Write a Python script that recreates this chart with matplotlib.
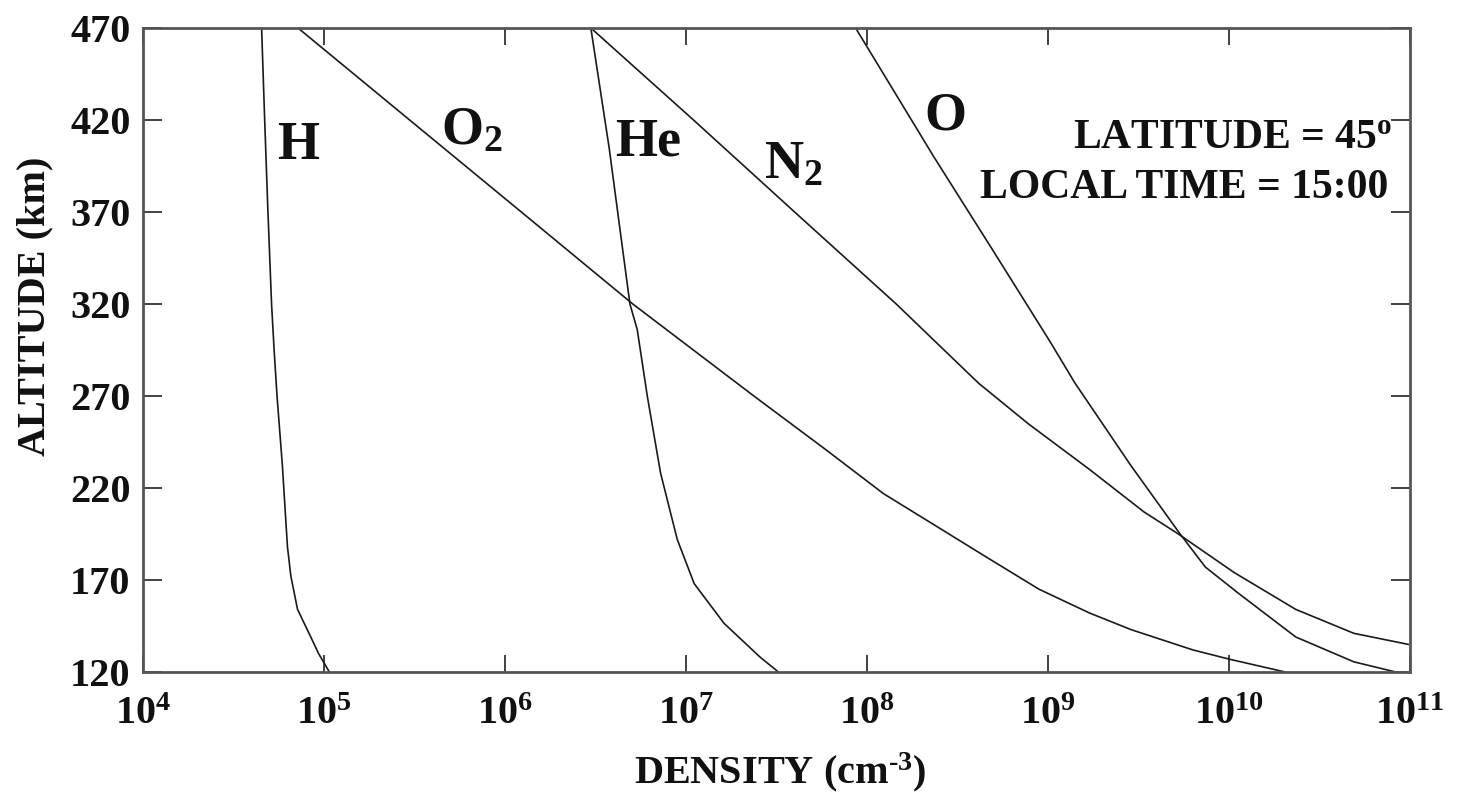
import numpy as np
import matplotlib
matplotlib.use("Agg")
import matplotlib.pyplot as plt

plt.rcParams['font.family'] = ['Liberation Serif', 'DejaVu Serif']
plt.rcParams['font.weight'] = 'bold'
plt.rcParams['mathtext.fontset'] = 'custom'
plt.rcParams['mathtext.rm'] = 'Liberation Serif:bold'
plt.rcParams['mathtext.bf'] = 'Liberation Serif:bold'
plt.rcParams['mathtext.it'] = 'Liberation Serif:bold'

# densities (cm^-3), altitude in km
alt_H = [470, 420, 370, 320, 295, 270, 232, 188, 172, 154, 139, 130, 120]
den_H = [4.52e4, 4.70e4, 4.90e4, 5.13e4, 5.30e4, 5.50e4, 5.89e4, 6.28e4, 6.56e4, 7.14e4, 8.45e4, 9.33e4, 1.07e5]

alt_O2 = [470, 420, 370, 320, 270, 241, 217, 197, 183, 165, 152, 143, 132, 127, 120]
den_O2 = [7.18e4, 2.97e5, 1.23e6, 5.08e6, 2.37e7, 5.89e7, 1.23e8, 2.63e8, 4.47e8, 8.91e8,
          1.70e9, 2.88e9, 6.31e9, 1.0e10, 2.04e10]

alt_He = [470, 405, 320, 306, 270, 228, 192, 168, 146.5, 128, 120]
den_He = [2.98e6, 3.76e6, 4.90e6, 5.38e6, 6.11e6, 7.24e6, 8.95e6, 1.11e7, 1.62e7, 2.57e7, 3.24e7]

alt_N2 = [470, 420, 370, 320, 277, 255, 230, 207, 195, 174, 154, 141, 135]
den_N2 = [2.98e6, 1.10e7, 3.98e7, 1.45e8, 4.13e8, 7.76e8, 1.70e9, 3.39e9, 5.25e9, 1.07e10, 2.34e10,
          4.90e10, 9.77e10]

alt_O = [470, 400, 350, 300, 277, 232, 195, 177, 163, 139, 125.5, 120]
den_O = [8.65e7, 2.34e8, 4.90e8, 1.02e9, 1.41e9, 2.88e9, 5.37e9, 7.41e9, 1.12e10, 2.34e10, 4.90e10, 8.32e10]

yticks = [120, 170, 220, 270, 320, 370, 420, 470]
xexp = [4, 5, 6, 7, 8, 9, 10, 11]

fig = plt.figure(figsize=(14.67, 7.99), dpi=100)
ax = fig.add_axes([0.0975, 0.159, 0.8636, 0.806])

for d, a in [(den_H, alt_H), (den_O2, alt_O2), (den_He, alt_He), (den_N2, alt_N2), (den_O, alt_O)]:
    ax.plot(d, a, color='#1a1a1a', lw=1.2)

ax.set_xscale('log')
ax.set_xlim(1e4, 1e11)
ax.set_ylim(120, 470)
ax.set_xticks([10.0**e for e in xexp])
ax.set_xticklabels([r'$10^{%d}$' % e for e in xexp])
ax.xaxis.set_minor_locator(matplotlib.ticker.NullLocator())
ax.set_yticks(yticks)
ax.set_yticklabels([str(v) for v in yticks])

ax.tick_params(axis='both', direction='in', top=True, right=True, width=1.3, colors='#333333',
               labelcolor='#111111', labelsize=29)
ax.tick_params(axis='x', length=12, pad=17)
ax.tick_params(axis='y', length=14, pad=9)
for s in ax.spines.values():
    s.set_linewidth(2.0)
    s.set_color('#555555')

lab = dict(fontsize=39, fontweight='bold', ha='center', va='center', color='#111111')
ax.text(7.2e4, 406, 'H', **lab)
ax.text(6.6e5, 414, r'$\mathrm{O_2}$', **lab)
ax.text(6.2e6, 408, 'He', **lab)
ax.text(3.9e7, 395, r'$\mathrm{N_2}$', **lab)
ax.text(2.7e8, 422, 'O', **lab)

info = dict(fontsize=30, fontweight='bold', ha='right', va='center', color='#111111', transform=ax.transAxes)
ax.text(0.986, 0.829, r'LATITUDE = 45$^{\mathrm{o}}$', **info)
ax.text(0.983, 0.752, 'LOCAL TIME = 15:00', **info)

fig.text(0.024, 0.617, 'ALTITUDE (km)', rotation=90, fontsize=29, fontweight='bold',
         ha='center', va='center', color='#111111')
fig.text(0.532, 0.034, r'DENSITY (cm$^{\text{-3}}$)', fontsize=29, fontweight='bold',
         ha='center', va='center', color='#111111')

fig.savefig('out.png', dpi=100)
